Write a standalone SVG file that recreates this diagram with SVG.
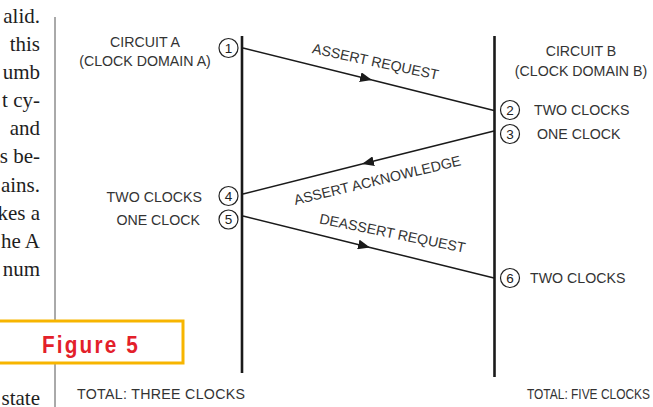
<svg xmlns="http://www.w3.org/2000/svg" width="653" height="407" viewBox="0 0 653 407">
  <style>
    .body { font-family: "Liberation Serif", "Times New Roman", serif; font-size: 21px; fill: #1e1e1e; text-anchor: end; }
    .lbl { font-family: "Liberation Sans", Arial, sans-serif; font-size: 14.2px; fill: #333; }
    .num { font-family: "Liberation Sans", Arial, sans-serif; font-size: 13.5px; fill: #222; text-anchor: middle; }
    .life { stroke: #1a1a1a; stroke-width: 2.6; fill: none; }
    .msg { stroke: #1a1a1a; stroke-width: 1.5; fill: none; }
    .badge { fill: #fff; stroke: #222; stroke-width: 1.2; }
    .rule { stroke: #555; stroke-width: 1; }
  </style>
  <defs>
    <marker id="arrow" viewBox="0 0 12 10" refX="12" refY="5" markerWidth="12" markerHeight="10" markerUnits="userSpaceOnUse" orient="auto">
      <path d="M0,0 L12,5 L0,10 z" fill="#1a1a1a"/>
    </marker>
  </defs>
  <rect width="653" height="407" fill="#fff"/>

  <!-- running text column at the page edge -->
  <g id="page-text">
    <text class="body" x="40" y="23">alid.</text>
    <text class="body" x="40" y="51">this</text>
    <text class="body" x="40" y="79">umb</text>
    <text class="body" x="40" y="107">t cy-</text>
    <text class="body" x="40" y="135">and</text>
    <text class="body" x="40" y="163">s be-</text>
    <text class="body" x="40" y="192">ains.</text>
    <text class="body" x="40" y="220">kes a</text>
    <text class="body" x="40" y="248">he A</text>
    <text class="body" x="40" y="276">num</text>
    <text class="body" x="40" y="405">state</text>
    <line class="rule" x1="55" y1="17" x2="55" y2="407"/>
  </g>

  <!-- figure caption tag -->
  <g id="figure-tag">
    <rect x="-2" y="321" width="185" height="42" fill="#fff" stroke="#f7b500" stroke-width="3"/>
    <text x="42" y="352.5" font-family="'Liberation Sans', Arial, sans-serif" font-weight="bold" font-size="24" fill="#e3202a" letter-spacing="2.5" textLength="98" lengthAdjust="spacingAndGlyphs">Figure 5</text>
  </g>

  <!-- lifelines -->
  <g id="circuit-a">
    <line class="life" x1="242" y1="36" x2="242" y2="373"/>
    <text class="lbl" x="145" y="47" text-anchor="middle">CIRCUIT A</text>
    <text class="lbl" x="145" y="66" text-anchor="middle">(CLOCK DOMAIN A)</text>
    <text class="lbl" x="161" y="399" text-anchor="middle" textLength="168" lengthAdjust="spacing">TOTAL: THREE CLOCKS</text>
  </g>
  <g id="circuit-b">
    <line class="life" x1="494.5" y1="36" x2="494.5" y2="377"/>
    <text class="lbl" x="581" y="56" text-anchor="middle">CIRCUIT B</text>
    <text class="lbl" x="581" y="76" text-anchor="middle">(CLOCK DOMAIN B)</text>
    <text class="lbl" x="527" y="399" textLength="123" lengthAdjust="spacingAndGlyphs">TOTAL: FIVE CLOCKS</text>
  </g>

  <!-- numbered events -->
  <g id="event-1"><circle class="badge" cx="228.5" cy="48" r="9.5"/><text class="num" x="228.5" y="52.8">1</text></g>
  <g id="event-2"><circle class="badge" cx="510" cy="110" r="9.5"/><text class="num" x="510" y="114.8">2</text>
    <text class="lbl" x="534" y="115">TWO CLOCKS</text></g>
  <g id="event-3"><circle class="badge" cx="510" cy="134" r="9.5"/><text class="num" x="510" y="138.8">3</text>
    <text class="lbl" x="537" y="139">ONE CLOCK</text></g>
  <g id="event-4"><circle class="badge" cx="228.5" cy="196" r="9.5"/><text class="num" x="228.5" y="200.8">4</text>
    <text class="lbl" x="202" y="202" text-anchor="end">TWO CLOCKS</text></g>
  <g id="event-5"><circle class="badge" cx="228.5" cy="219.5" r="9.5"/><text class="num" x="228.5" y="224.3">5</text>
    <text class="lbl" x="200" y="225" text-anchor="end">ONE CLOCK</text></g>
  <g id="event-6"><circle class="badge" cx="510" cy="278" r="9.5"/><text class="num" x="510" y="282.8">6</text>
    <text class="lbl" x="530" y="283">TWO CLOCKS</text></g>

  <!-- handshake messages -->
  <g id="connectors">
    <path class="msg" d="M243,48 L372,80.1" marker-end="url(#arrow)"/>
    <path class="msg" d="M372,80.1 L494,110.5"/>
    <path class="msg" d="M494,131 L362,164.1" marker-end="url(#arrow)"/>
    <path class="msg" d="M362,164.1 L243,194"/>
    <path class="msg" d="M243,216 L370,247.4" marker-end="url(#arrow)"/>
    <path class="msg" d="M370,247.4 L494,278"/>
    <text class="lbl" transform="translate(374.5,66.5) rotate(12)" text-anchor="middle">ASSERT REQUEST</text>
    <text class="lbl" transform="translate(378.5,185) rotate(-13.5)" text-anchor="middle">ASSERT ACKNOWLEDGE</text>
    <text class="lbl" transform="translate(391.5,238) rotate(11.5)" text-anchor="middle">DEASSERT REQUEST</text>
  </g>
</svg>
